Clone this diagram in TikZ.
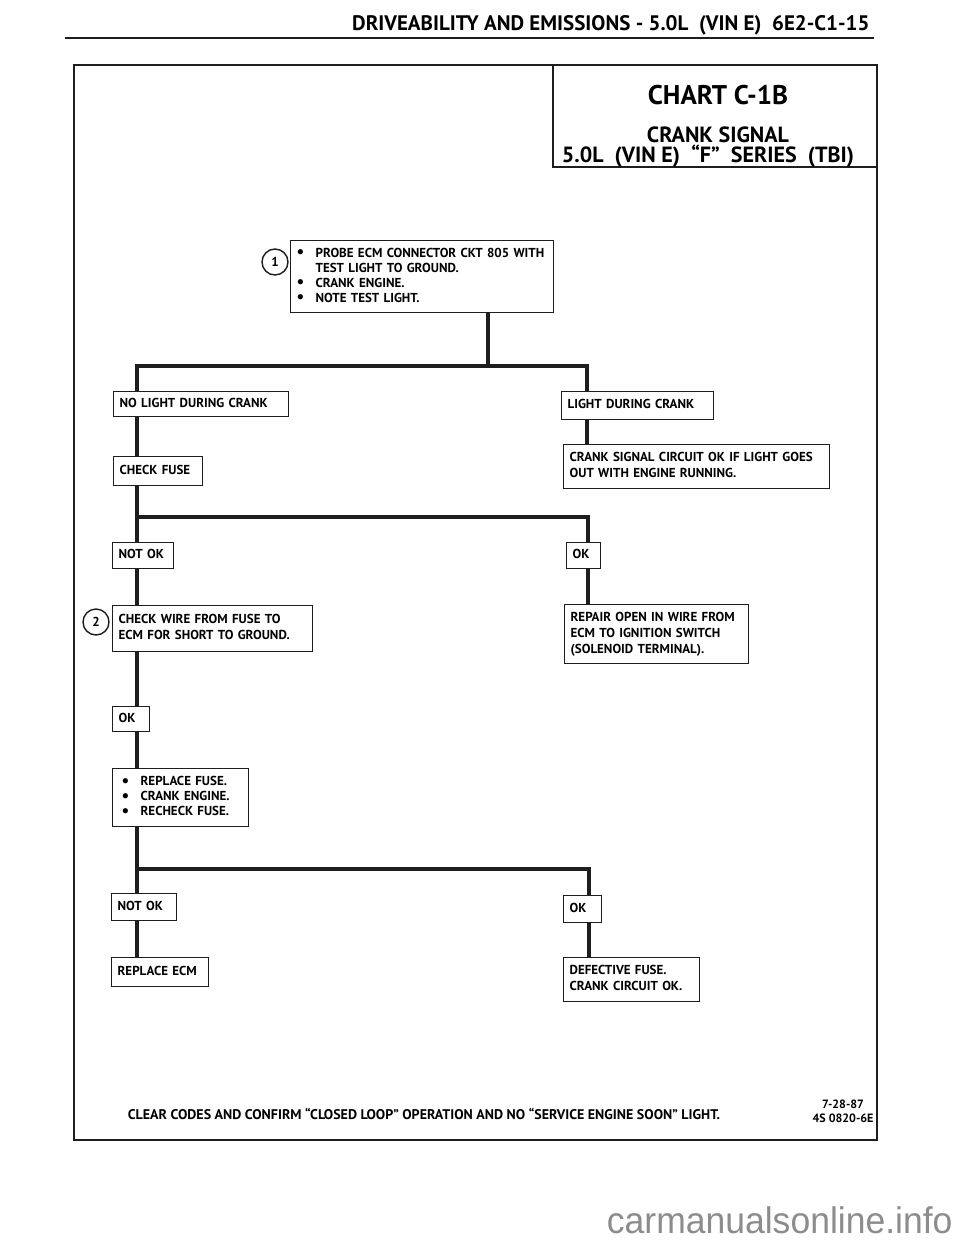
\documentclass[tikz,border=0pt]{standalone}
\usepackage{fontspec}
\setmainfont{PT Sans}
\newfontfamily\markfont[FakeStretch=0.96]{Liberation Sans}
\usetikzlibrary{positioning,backgrounds}
\definecolor{inkgray}{HTML}{1E1E1E}
\definecolor{markgray}{HTML}{8C8C8C}
\tikzset{
  chartbox/.style={draw=inkgray,line width=1.3pt,fill=white,anchor=north west,
    align=left,font=\fontsize{13}{16}\selectfont\bfseries,inner xsep=6pt,inner ysep=0pt},
  bubble/.style={circle,draw=inkgray,line width=1.4pt,fill=white,minimum size=26pt,
    inner sep=0pt,font=\fontsize{13}{13}\selectfont\bfseries},
  wire/.style={draw=inkgray,line width=4pt},
  frameline/.style={draw=inkgray,line width=2.5pt}
}
\newcommand{\bul}{\makebox[19pt][l]{\raisebox{-0.5pt}{\fontsize{17}{16}\selectfont\textbullet}}}
\newcommand{\bulgap}{\hspace*{19pt}}
\newcommand{\rows}[1]{\begin{tabular}{@{}l@{}}#1\end{tabular}}

\begin{document}
\begin{tikzpicture}[x=1pt,y=-1pt]
  \useasboundingbox (0,0) rectangle (960,1242);

  % page head
  \node[anchor=base east,font=\fontsize{21}{21}\selectfont\bfseries] (pagehead) at (873,30)
    {DRIVEABILITY AND EMISSIONS - 5.0L\ \ (VIN E)\ \ 6E2-C1-15};
  \draw[frameline] (65,38) -- (874,38);

  % chart frame and title
  \draw[frameline] (74,65) rectangle (877,1140);
  \draw[frameline] (553,65) -- (553,167) -- (877,167);
  \node[anchor=base,font=\fontsize{27}{27}\selectfont\bfseries] (charttitle) at (718,104) {CHART C-1B};
  \node[anchor=base,font=\fontsize{22}{22}\selectfont\bfseries] (chartsub) at (718,142) {CRANK SIGNAL};
  \node[anchor=base,font=\fontsize{22}{22}\selectfont\bfseries] (chartveh) at (708,162)
    {5.0L\ \ (VIN E)\ \ “F”\ \ SERIES\ \ (TBI)};

  % first test
  \node[chartbox,text width=251pt,minimum height=72pt] (probe) at (290,240)
    {\rows{\bul PROBE ECM CONNECTOR CKT 805 WITH\\[-1pt] \bulgap TEST LIGHT TO GROUND.\\[-1pt]
      \bul CRANK ENGINE.\\[-1pt] \bul NOTE TEST LIGHT.}};
  \node[bubble] (step1) at (275,262) {1};

  % light result
  \node[chartbox,text width=163pt,minimum height=25pt] (nolight) at (113,391) {\rows{NO LIGHT DURING CRANK}};
  \node[chartbox,text width=140pt,minimum height=28pt] (light) at (561,391) {\rows{LIGHT DURING CRANK}};
  \node[chartbox,text width=254pt,minimum height=44pt] (cksig) at (563,444)
    {\rows{CRANK SIGNAL CIRCUIT OK IF LIGHT GOES\\ OUT WITH ENGINE RUNNING.}};
  \node[chartbox,text width=77pt,minimum height=29pt] (chkfuse) at (113,456) {\rows{CHECK FUSE}};

  % fuse result
  \node[chartbox,text width=49pt,minimum height=26pt] (notok1) at (112,542) {\rows{NOT OK}};
  \node[chartbox,text width=22pt,minimum height=26pt] (ok1) at (566,542) {\rows{OK}};
  \node[chartbox,text width=188pt,minimum height=46pt] (chkwire) at (112,605)
    {\rows{CHECK WIRE FROM FUSE TO\\ ECM FOR SHORT TO GROUND.}};
  \node[bubble] (step2) at (96,622) {2};
  \node[chartbox,text width=172pt,minimum height=59pt] (repair) at (564,604)
    {\rows{REPAIR OPEN IN WIRE FROM\\ ECM TO IGNITION SWITCH\\ (SOLENOID TERMINAL).}};

  % wire check
  \node[chartbox,text width=25pt,minimum height=25pt] (ok2) at (112,706) {\rows{OK}};
  \node[chartbox,text width=124pt,minimum height=58pt] (replace) at (112,768)
    {\rows{\hspace*{3pt}\bul REPLACE FUSE.\\[-1pt] \hspace*{3pt}\bul CRANK ENGINE.\\[-1pt] \hspace*{3pt}\bul RECHECK FUSE.}};

  % recheck result
  \node[chartbox,text width=53pt,minimum height=27pt] (notok2) at (111,893) {\rows{NOT OK}};
  \node[chartbox,text width=26pt,minimum height=27pt] (ok3) at (563,895) {\rows{OK}};
  \node[chartbox,text width=85pt,minimum height=29pt] (repecm) at (111,957) {\rows{REPLACE ECM}};
  \node[chartbox,text width=124pt,minimum height=44pt] (defect) at (563,957)
    {\rows{DEFECTIVE FUSE.\\ CRANK CIRCUIT OK.}};

  % wires
  \coordinate (split1) at (488,366);
  \coordinate (lefttop) at (137,366);
  \coordinate (righttop) at (587,366);
  \coordinate (fusesplit) at (588,517);
  \coordinate (recksplit) at (589,869);
  \begin{scope}[on background layer]
    \draw[wire] (probe.south -| split1) -- (split1);
    \draw[wire] (righttop |- cksig.north) -- (righttop) -- (lefttop) -- (lefttop |- repecm.north);
    \draw[wire] (fusesplit -| lefttop) -- (fusesplit) -- (fusesplit |- repair.north);
    \draw[wire] (recksplit -| lefttop) -- (recksplit) -- (recksplit |- defect.north);
  \end{scope}

  % foot
  \node[anchor=base,font=\fontsize{14}{14}\selectfont\bfseries] (clearcodes) at (424,1119)
    {CLEAR CODES AND CONFIRM “CLOSED LOOP” OPERATION AND NO “SERVICE ENGINE SOON” LIGHT.};
  \node[align=center,font=\fontsize{12}{14}\selectfont\bfseries] (chartref) at (843,1111)
    {7-28-87\\4S 0820-6E};
  \node[anchor=base east,font=\markfont\fontsize{37}{37}\selectfont,text=markgray] (watermark)
    at (956,1233) {carmanualsonline.info};
\end{tikzpicture}
\end{document}
